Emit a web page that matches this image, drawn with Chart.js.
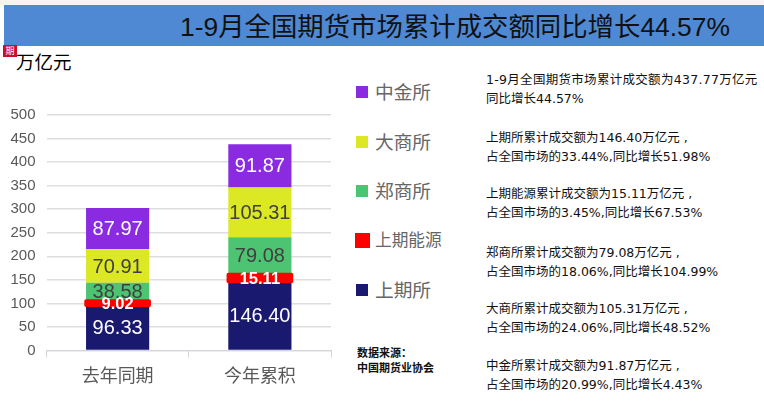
<!DOCTYPE html>
<html>
<head>
<meta charset="utf-8">
<script src="https://cdn.jsdelivr.net/npm/chart.js@4"></script>
<style>
    html, body { margin: 0; padding: 0; background: #fff; }
    #page { position: relative; width: 764px; height: 405px; overflow: hidden;
            font-family: "Liberation Sans", "Noto Sans CJK SC", sans-serif; }
    #page > div, #page > canvas { position: absolute; }
    #topStrip { left: 0; top: 0; width: 764px; height: 5px; background: #f4f4f4; }
    #band { left: 4px; top: 5px; width: 760px; height: 41px; background: #4f88d3; }
    #title { left: 180px; top: 9px; font-size: 26.4px; line-height: 36px; color: #111; white-space: nowrap; }
    #logo { left: 3px; top: 45px; width: 14px; height: 12px; background: #c8102e; color: #fff;
            font-size: 9px; line-height: 12px; text-align: center; }
    #unit { left: 16px; top: 50px; font-size: 18.5px; line-height: 26px; color: #000; }
    #chartBox { left: 0; top: 0; width: 350px; height: 405px; }
    .swatch { width: 12px; height: 12px; }
    .legendText { left: 375px; color: #666; white-space: nowrap; line-height: 26px; }
    .note { left: 486px; font-family: "DejaVu Sans", "Noto Sans CJK SC", sans-serif; font-size: 12.5px;
            line-height: 19px; color: #111; white-space: nowrap; }
    #source { left: 357px; top: 346px; font-size: 11px; font-weight: bold; line-height: 15px; color: #111; white-space: nowrap; }
</style>
</head>
<body>
<div id="page">
    <div id="topStrip"></div>
    <div id="band"></div>
    <div id="title">1-9月全国期货市场累计成交额同比增长44.57%</div>
    <div id="logo">期</div>
    <div id="unit">万亿元</div>
    <div id="chartBox"><canvas id="chart"></canvas></div>
    <div id="source">数据来源：<br>中国期货业协会</div>
</div>
<script>
const categories = ['去年同期', '今年累积'];
const yTicks = [0, 50, 100, 150, 200, 250, 300, 350, 400, 450, 500];

const shfe = [96.33, 146.40];
const ine = [9.02, 15.11];
const czce = [38.58, 79.08];
const dce = [70.91, 105.31];
const cffex = [87.97, 91.87];

const seriesNames = ['上期所', '上期能源', '郑商所', '大商所', '中金所'];
const seriesColors = ['#191970', '#fe0000', '#4dc471', '#dce823', '#8a2be2'];
const labelColors = ['#fff', '#fff', '#404040', '#404040', '#fff'];
const labelFonts = ['20px', 'bold 16.5px', '20px', '20px', '20px'];

const notes = [
    ['<span style="letter-spacing:.3px">1-9月全国期货市场累计成交额为437.77万亿元</span>', '同比增长44.57%'],
    ['上期所累计成交额为146.40万亿元 ,', '占全国市场的33.44%,同比增长51.98%'],
    ['上期能源累计成交额为15.11万亿元 ,', '占全国市场的3.45%,同比增长67.53%'],
    ['郑商所累计成交额为79.08万亿元 ,', '占全国市场的18.06%,同比增长104.99%'],
    ['大商所累计成交额为105.31万亿元 ,', '占全国市场的24.06%,同比增长48.52%'],
    ['中金所累计成交额为91.87万亿元 ,', '占全国市场的20.99%,同比增长4.43%']
];
const noteTops = [70, 128, 184, 243, 299, 356];

// legend rows: series index, top of swatch, label size
const legendRows = [[4, 86, 18.7], [3, 136, 18.7], [2, 185, 18.7], [1, 233, 16.7], [0, 284, 18.7]];

const page = document.getElementById('page');

legendRows.forEach(([i, top, size]) => {
    const wide = i === 1;
    const box = document.createElement('div');
    box.className = 'swatch';
    box.style.cssText = `left:${wide ? 355 : 356}px;top:${top}px;background:${seriesColors[i]};` +
        (wide ? 'width:15px;height:15px;' : '');
    page.appendChild(box);

    const text = document.createElement('div');
    text.className = 'legendText';
    text.textContent = seriesNames[i];
    text.style.cssText = `top:${top - 6 + (wide ? 1 : 0)}px;font-size:${size}px;`;
    page.appendChild(text);
});

notes.forEach((lines, i) => {
    const note = document.createElement('div');
    note.className = 'note';
    note.style.top = noteTops[i] + 'px';
    note.innerHTML = lines.join('<br>');
    page.appendChild(note);
});

// The red band in the reference sticks out past the bar, so stroke it wider
const redOutline = {
    id: 'redOutline',
    afterDatasetsDraw(chart) {
        const ctx = chart.ctx;
        chart.getDatasetMeta(1).data.forEach(bar => {
            const half = bar.width / 2;
            ctx.save();
            ctx.strokeStyle = seriesColors[1];
            ctx.lineWidth = 3.5;
            ctx.lineJoin = 'round';
            ctx.strokeRect(bar.x - half, bar.y, bar.width, bar.base - bar.y);
            ctx.restore();
        });
    }
};

const barLabels = {
    id: 'barLabels',
    afterDraw(chart) {
        const ctx = chart.ctx;
        chart.data.datasets.forEach((ds, i) => {
            chart.getDatasetMeta(i).data.forEach((bar, j) => {
                ctx.save();
                ctx.font = `${labelFonts[i]} "Liberation Sans", sans-serif`;
                ctx.fillStyle = labelColors[i];
                ctx.textAlign = 'center';
                ctx.textBaseline = 'middle';
                ctx.fillText(ds.data[j].toFixed(2), bar.x, (bar.y + bar.base) / 2 + 1);
                ctx.restore();
            });
        });
    }
};

new Chart(document.getElementById('chart').getContext('2d'), {
    type: 'bar',
    data: {
        labels: categories,
        datasets: [shfe, ine, czce, dce, cffex].map((values, i) => ({
            label: seriesNames[i],
            data: values,
            backgroundColor: seriesColors[i],
            borderWidth: 0,
            barPercentage: 0.444,
            categoryPercentage: 1
        }))
    },
    options: {
        responsive: true,
        maintainAspectRatio: false,
        animation: false,
        layout: { padding: { top: 115, right: 19, bottom: 0, left: 0 } },
        plugins: { legend: { display: false }, tooltip: { enabled: false } },
        scales: {
            x: {
                stacked: true,
                afterFit: scale => { scale.height = 54.5; },
                border: { color: '#d4d4dc', width: 1 },
                grid: { drawOnChartArea: false, color: '#d4d4dc', tickLength: 7 },
                ticks: { color: '#595959', padding: 7, maxRotation: 0,
                         font: { family: '"Noto Sans CJK SC"', size: 18 } }
            },
            y: {
                stacked: true,
                min: 0,
                max: 500,
                afterFit: scale => { scale.width = 46.5; },
                afterBuildTicks: scale => { scale.ticks = yTicks.map(value => ({ value })); },
                border: { display: false },
                grid: { color: '#dedede', lineWidth: 1.5, drawTicks: false },
                ticks: { color: '#595959', padding: 11,
                         font: { family: '"Liberation Sans"', size: 15 } }
            }
        }
    },
    plugins: [redOutline, barLabels]
});
</script>
</body>
</html>
